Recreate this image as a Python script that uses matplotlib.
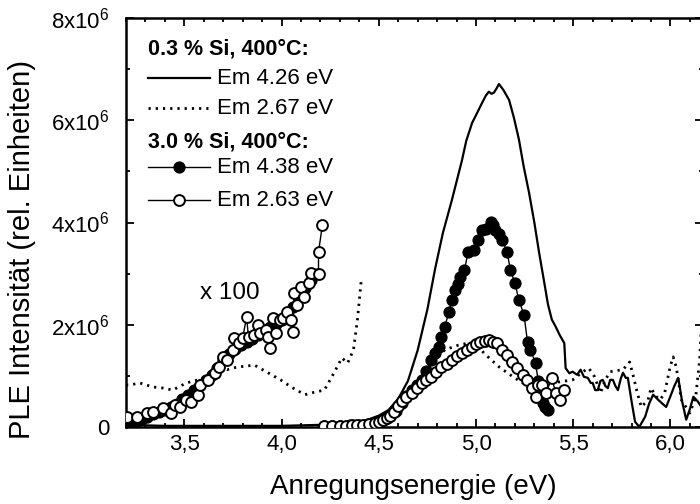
import numpy as np
import matplotlib
matplotlib.use("Agg")
from matplotlib import pyplot as plt
from matplotlib.lines import Line2D
from matplotlib.ticker import MultipleLocator, FixedLocator, FixedFormatter

plt.rcParams['font.family'] = ['Liberation Sans', 'DejaVu Sans']
plt.rcParams['mathtext.fontset'] = 'custom'
plt.rcParams['mathtext.rm'] = 'Liberation Sans'

nan = np.nan
scale = 1e6

# 0.3 % Si, Em 4.26 eV (solid)
e_426 = [3.20, 3.30, 3.40, 3.50, 3.60, 3.70, 3.80, 3.90, 4.00, 4.10, 4.20, 4.30, 4.40, 4.45,
         4.50, 4.55, 4.60, 4.65, 4.70, 4.75, 4.79, 4.83, 4.876, 4.90, 4.928, 4.95, 4.98, 5.00,
         5.031, 5.05, 5.066, 5.08, 5.092, 5.105, 5.118, 5.14, 5.17, 5.195, 5.221, 5.245, 5.273,
         5.30, 5.325, 5.35, 5.37, 5.39, 5.41, 5.43, 5.454, 5.461, 5.48, 5.497, 5.52, 5.538,
         5.555, 5.575, 5.59, 5.60, 5.613, 5.626, 5.64, 5.652, 5.665, 5.678, 5.69, 5.704, 5.717,
         5.73, 5.745, 5.756, 5.77, 5.781, 5.80, 5.818, 5.84, 5.87, 5.89, 5.911, 5.937, 5.96,
         5.978, 6.00, 6.02, 6.04, 6.06, 6.081, 6.10, 6.118, 6.14, 6.17]
i_426 = [0.05, 0.03, 0.02, 0.02, 0.02, 0.02, 0.02, 0.02, 0.02, 0.03, 0.04, 0.06, 0.10, 0.15,
         0.22, 0.33, 0.55, 0.90, 1.50, 2.30, 3.10, 3.80, 4.44, 4.80, 5.22, 5.60, 5.95, 6.10,
         6.34, 6.48, 6.56, 6.52, 6.54, 6.62, 6.71, 6.60, 6.40, 6.05, 5.62, 5.10, 4.58,
         4.00, 3.40, 2.85, 2.40, 2.10, 1.96, 1.80, 1.64, 1.15, 1.05, 1.08, 1.02, 1.12,
         0.98, 0.96, 0.86, 0.86, 0.72, 0.72, 0.90, 0.92, 0.80, 0.76, 0.92, 0.92, 0.80,
         0.72, 0.95, 1.06, 0.96, 0.96, 0.50, 0.10, 0.00, 0.20, 0.45, 0.63, 0.53, 0.45,
         0.39, 0.60, 0.80, 0.96, 0.50, 0.14, 0.35, 0.59, 0.50, 0.33]

# 0.3 % Si, Em 2.67 eV (dotted); left part x 100
e_267 = [3.20, 3.22, 3.27, 3.34, 3.39, 3.44, 3.51, 3.57, 3.62, 3.69, 3.72, 3.77, 3.82, 3.86,
         3.93, 3.995, 4.05, 4.12, 4.17, 4.22, 4.27, 4.31, 4.34, 4.37, 4.39, 4.41, nan,
         4.44, 4.50, 4.55, 4.60, 4.65, 4.70, 4.75, 4.80, 4.84, 4.91, 4.96, 5.01, 5.05, 5.12,
         5.19, 5.24, 5.30, 5.37, 5.43, 5.497, 5.55, 5.58, 5.61, 5.64, 5.665, 5.69, 5.72, 5.756,
         5.79, 5.81, 5.83, 5.85, 5.885, 5.90, 5.925, 5.947, 5.97, 5.998, 6.014, 6.03, 6.056,
         6.10, 6.13, 6.15, 6.16]
i_267 = [0.82, 0.82, 0.86, 0.78, 0.76, 0.72, 0.86, 0.92, 0.98, 1.17, 1.12, 1.17, 1.19, 1.21,
         1.06, 0.92, 0.78, 0.63, 0.68, 0.72, 1.06, 1.35, 1.25, 1.51, 2.09, 2.88, nan,
         0.05, 0.10, 0.20, 0.40, 0.65, 0.90, 1.10, 1.35, 1.51, 1.60, 1.64, 1.57, 1.41, 1.17,
         0.98, 0.86, 0.85, 0.88, 0.88, 0.92, 1.08, 1.15, 0.98, 0.66, 0.92, 1.08, 1.10, 1.12,
         1.27, 0.98, 0.66, 0.39, 0.53, 0.76, 0.60, 0.53, 0.66, 1.17, 1.37, 1.17, 0.53,
         0.27, 0.59, 1.30, 2.04]

# 3.0 % Si, Em 4.38 eV (filled circles); left part x 100
e_438 = [3.20, 3.22, 3.25, 3.28, 3.31, 3.34, 3.37, 3.40, 3.43, 3.46, 3.49, 3.52, 3.55, 3.58,
         3.61, 3.64, 3.67, 3.70, 3.73, 3.76, 3.79, 3.82, 3.85, 3.88, 3.91, 3.94, 3.97, 4.00,
         4.03, 4.06, 4.09, 4.12, 4.15, 4.18, nan,
         4.22, 4.26, 4.30, 4.35, 4.40, 4.45, 4.50, 4.53, 4.56, 4.59, 4.617, 4.64, 4.67, 4.695,
         4.72, 4.745, 4.77, 4.79, 4.81, 4.82, 4.84, 4.86, 4.876, 4.89, 4.905, 4.92, 4.94, 4.96,
         4.99, 5.01, 5.03, 5.05, 5.075, 5.09, 5.10, 5.12, 5.135, 5.16, 5.177, 5.20, 5.22, 5.247,
         5.265, 5.28, 5.306, 5.32, 5.342, 5.357, 5.368]
i_438 = [0.10, 0.05, 0.08, 0.15, 0.20, 0.25, 0.30, 0.33, 0.38, 0.45, 0.55, 0.62, 0.72, 0.82,
         0.92, 1.02, 1.15, 1.30, 1.42, 1.52, 1.60, 1.66, 1.72, 1.80, 1.88, 1.95, 2.02, 2.10,
         2.20, 2.35, 2.55, 2.72, 2.88, 3.00, nan,
         0.02, 0.02, 0.02, 0.03, 0.04, 0.06, 0.10, 0.15, 0.22, 0.32, 0.47, 0.60, 0.72, 0.82,
         0.92, 1.10, 1.31, 1.45, 1.57, 1.76, 1.96, 2.25, 2.49, 2.68, 2.80, 2.94, 3.07, 3.42,
         3.46, 3.66, 3.85, 3.88, 4.01, 3.95, 3.85, 3.78, 3.66, 3.42, 3.07, 2.82, 2.49, 2.19,
         1.66, 1.51, 1.25, 0.90, 0.47, 0.39, 0.33]

# 3.0 % Si, Em 2.63 eV (open circles); left part x 100
e_263 = [3.204, 3.255, 3.307, 3.34, 3.39, 3.43, 3.45, 3.48, 3.51, 3.535, 3.57, 3.58, 3.62,
         3.66, 3.68, 3.70, 3.72, 3.75, 3.755, 3.78, 3.80, 3.82, 3.83, 3.86, 3.88, 3.89, 3.92,
         3.93, 3.94, 3.955, 3.97, 3.99, 4.005, 4.03, 4.05, 4.06, 4.065, 4.08, 4.10, 4.115,
         4.14, 4.15, 4.19, 4.19, 4.21, nan,
         4.22, 4.26, 4.30, 4.33, 4.36, 4.39, 4.42, 4.45, 4.48, 4.50, 4.52, 4.54, 4.56, 4.58,
         4.60, 4.617, 4.64, 4.67, 4.695, 4.72, 4.745, 4.77, 4.795, 4.82, 4.85, 4.876, 4.90,
         4.93, 4.955, 4.98, 5.00, 5.02, 5.045, 5.067, 5.09, 5.11, 5.135, 5.16, 5.186, 5.21,
         5.24, 5.26, 5.29, 5.306, 5.32, 5.34, 5.36, 5.39, 5.41, 5.43, 5.45]
i_263 = [0.20, 0.20, 0.27, 0.29, 0.37, 0.27, 0.43, 0.39, 0.53, 0.49, 0.63, 0.82, 0.92,
         1.06, 1.17, 1.37, 1.31, 1.51, 1.74, 1.64, 1.74, 2.15, 1.76, 1.80, 2.00, 1.84, 1.90,
         1.76, 1.55, 2.13, 1.84, 2.09, 2.13, 2.25, 2.09, 1.86, 2.62, 2.39, 2.74, 2.54,
         2.82, 3.01, 2.99, 3.42, 3.95, nan,
         0.01, 0.01, 0.02, 0.02, 0.03, 0.03, 0.04, 0.06, 0.08, 0.10, 0.13, 0.17, 0.22, 0.30,
         0.40, 0.50, 0.58, 0.66, 0.76, 0.86, 0.92, 0.98, 1.07, 1.17, 1.24, 1.31, 1.38,
         1.45, 1.50, 1.57, 1.62, 1.66, 1.68, 1.70, 1.67, 1.64, 1.51, 1.41, 1.27, 1.15,
         1.02, 0.92, 0.76, 0.59, 0.82, 0.82, 0.66, 0.96, 0.66, 0.53, 0.72]

x_ticks = [3.5, 4.0, 4.5, 5.0, 5.5, 6.0]
x_labels = ['3,5', '4,0', '4,5', '5,0', '5,5', '6,0']
y_ticks = [0, 2e6, 4e6, 6e6, 8e6]
y_labels = ['0', r'2x10$^{\mathregular{6}}$', r'4x10$^{\mathregular{6}}$',
            r'6x10$^{\mathregular{6}}$', r'8x10$^{\mathregular{6}}$']

fig = plt.figure(figsize=(7.0, 5.04), dpi=100)
ax = fig.add_axes([0.18, 0.153, 0.825, 0.811])

ax.plot(e_426, np.array(i_426) * scale, color='black', lw=1.6, zorder=2)
ax.plot(e_267, np.array(i_267) * scale, color='black', lw=2.0,
        linestyle=(0, (0.8, 1.8)), zorder=2)
ax.plot(e_438, np.array(i_438) * scale, color='black', lw=1.0, marker='o',
        markersize=7.8, markerfacecolor='black', markeredgecolor='black', zorder=3)
ax.plot(e_263, np.array(i_263) * scale, color='black', lw=1.0, marker='o',
        markersize=7.8, markerfacecolor='white', markeredgecolor='black',
        markeredgewidth=1.4, zorder=4)

ax.set_xlim(3.2, 6.17)
ax.set_ylim(0, 8e6)

ax.xaxis.set_major_locator(FixedLocator(x_ticks))
ax.xaxis.set_major_formatter(FixedFormatter(x_labels))
ax.xaxis.set_minor_locator(MultipleLocator(0.1))
ax.yaxis.set_major_locator(FixedLocator(y_ticks))
ax.yaxis.set_major_formatter(FixedFormatter(y_labels))
ax.yaxis.set_minor_locator(MultipleLocator(1e6))

ax.tick_params(which='both', direction='in', top=True, right=True, width=1.3,
               labelsize=16)
ax.tick_params(which='major', length=6)
ax.tick_params(which='minor', length=3)
ax.tick_params(axis='y', pad=12)
ax.tick_params(axis='x', pad=5)
for sp in ax.spines.values():
    sp.set_linewidth(1.8)

ax.set_xlabel('Anregungsenergie (eV)', fontsize=20)
ax.set_ylabel('PLE Intensität (rel. Einheiten)', fontsize=21)
ax.xaxis.set_label_coords(0.497, -0.147, transform=ax.transAxes)
ax.yaxis.set_label_coords(-0.18, 0.435, transform=ax.transAxes)
ax.xaxis.label.set_va('center')
ax.yaxis.label.set_va('center')

ax.text(3.583, 2.62e6, 'x 100', fontsize=17.5, va='center', ha='left')

# hand-drawn legend in axes fraction
tr = ax.transAxes
x0, x1, xt = 0.038, 0.146, 0.158
ax.text(x0, 0.925, '0.3 % Si, 400°C:', transform=tr, fontsize=15.5,
        fontweight='bold', va='center', ha='left')
ax.add_line(Line2D([x0, x1], [0.853, 0.853], transform=tr, color='black', lw=1.6))
ax.text(xt, 0.853, 'Em 4.26 eV', transform=tr, fontsize=16, va='center', ha='left')
ax.add_line(Line2D([x0, x1], [0.780, 0.780], transform=tr, color='black', lw=2.0,
                   linestyle=(0, (0.8, 1.8))))
ax.text(xt, 0.780, 'Em 2.67 eV', transform=tr, fontsize=16, va='center', ha='left')
ax.text(x0, 0.697, '3.0 % Si, 400°C:', transform=tr, fontsize=15.5,
        fontweight='bold', va='center', ha='left')
ax.add_line(Line2D([x0, x1], [0.635, 0.635], transform=tr, color='black', lw=1.0))
ax.add_line(Line2D([(x0 + x1) / 2], [0.635], transform=tr, marker='o',
                   markersize=7.8, color='black'))
ax.text(xt, 0.635, 'Em 4.38 eV', transform=tr, fontsize=16, va='center', ha='left')
ax.add_line(Line2D([x0, x1], [0.555, 0.555], transform=tr, color='black', lw=1.0))
ax.add_line(Line2D([(x0 + x1) / 2], [0.555], transform=tr, marker='o',
                   markersize=7.8, markerfacecolor='white', markeredgecolor='black',
                   markeredgewidth=1.4, color='black'))
ax.text(xt, 0.555, 'Em 2.63 eV', transform=tr, fontsize=16, va='center', ha='left')

fig.savefig('out.png', dpi=100)
